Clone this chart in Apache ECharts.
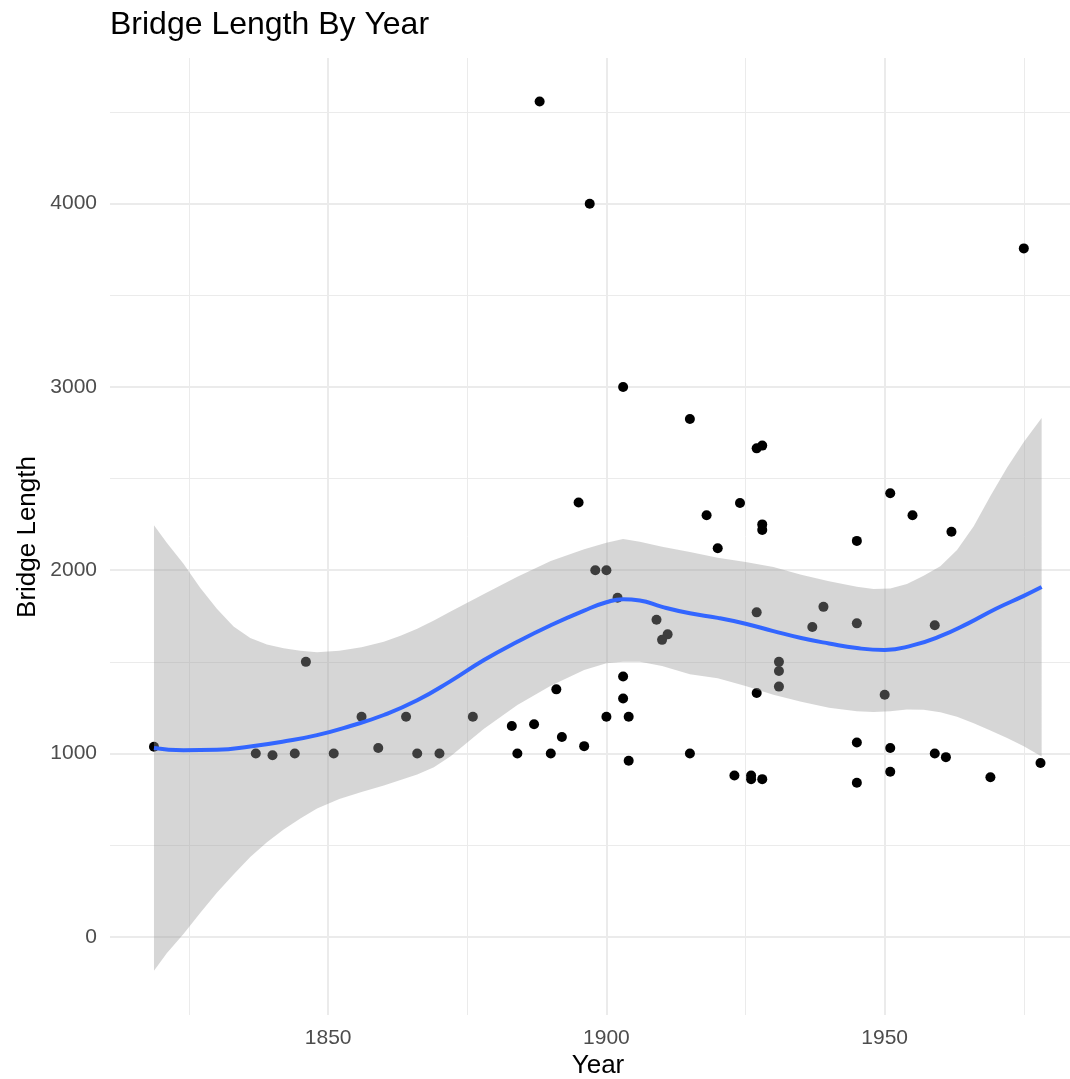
<!DOCTYPE html>
<html>
<head>
<meta charset="utf-8">
<title>Bridge Length By Year</title>
<script src="https://cdn.jsdelivr.net/npm/echarts@6/dist/echarts.min.js"></script>
<style>
  html, body { margin: 0; padding: 0; background: #fff; }
  #chart { width: 1070px; height: 1079px; }
</style>
</head>
<body>
<div id="chart"></div>
<script>
// observed bridges (year erected, length)
const years = [1818.7, 1837, 1840, 1844, 1846, 1851, 1856, 1859, 1864, 1866,
  1870, 1876, 1883, 1884, 1887, 1888, 1890, 1891, 1892, 1895,
  1896, 1897, 1898, 1900, 1900, 1902, 1903, 1903, 1903, 1904,
  1904, 1909, 1910, 1911, 1915, 1915, 1918, 1920, 1923, 1924,
  1926, 1926, 1927, 1927, 1927, 1928, 1928, 1928, 1928, 1931,
  1931, 1931, 1937, 1939, 1945, 1945, 1945, 1945, 1950, 1951,
  1951, 1951, 1955, 1959, 1959, 1961, 1962, 1969, 1975, 1978]
const lengths = [1037, 1000, 990, 1000, 1500, 1000, 1200, 1030, 1200, 1000,
  1000, 1200, 1150, 1000, 1160, 4558, 1000, 1350, 1090, 2370,
  1040, 4000, 2000, 2000, 1200, 1850, 3000, 1420, 1300, 1200,
  960, 1730, 1620, 1650, 2825, 1000, 2300, 2120, 880, 2367,
  880, 860, 2665, 1770, 1330, 2680, 2250, 2220, 860, 1500,
  1450, 1365, 1690, 1800, 2160, 1710, 1060, 840, 1320, 2420,
  1030, 900, 2300, 1700, 1000, 980, 2210, 870, 3756, 948]

// loess fit
const fitYears = [1818.7, 1824, 1830, 1836, 1842, 1848, 1854, 1860, 1866, 1872,
  1878, 1884, 1890, 1896, 1900, 1903, 1906, 1910, 1915, 1920,
  1925, 1930, 1935, 1940, 1945, 1950, 1955, 1960, 1965, 1970,
  1975, 1978.2]
const fitValues = [1030, 1018, 1020, 1038, 1065, 1100, 1150, 1210, 1290, 1395,
  1510, 1610, 1700, 1780, 1825, 1842, 1835, 1800, 1765, 1740,
  1708, 1668, 1630, 1600, 1575, 1565, 1590, 1640, 1710, 1790,
  1860, 1908]

// confidence band around the fit
const bandYears = [1818.7, 1821, 1824, 1827, 1830, 1833, 1836, 1839, 1842, 1845,
  1848, 1852, 1856, 1860, 1863, 1866, 1869, 1872, 1878, 1884,
  1890, 1896, 1900, 1903, 1906, 1910, 1915, 1920, 1925, 1930,
  1935, 1940, 1945, 1948, 1951, 1954, 1957, 1960, 1963, 1966,
  1969, 1972, 1975, 1978.2]
const bandUpper = [2245, 2150, 2035, 1905, 1790, 1693, 1630, 1595, 1574, 1560,
  1553, 1560, 1580, 1610, 1642, 1680, 1725, 1775, 1870, 1965,
  2050, 2115, 2150, 2170, 2155, 2128, 2100, 2068, 2045, 2018,
  1975, 1940, 1910, 1898, 1900, 1925, 1970, 2022, 2110, 2240,
  2405, 2560, 2700, 2831]
const bandLower = [-185, -90, 15, 130, 240, 340, 435, 515, 585, 645,
  700, 752, 790, 825, 855, 885, 925, 985, 1135, 1265,
  1370, 1455, 1493, 1500, 1500, 1477, 1432, 1410, 1368, 1320,
  1282, 1250, 1230, 1226, 1230, 1240, 1238, 1225, 1200, 1165,
  1125, 1085, 1040, 984]

const xTicks = [1850, 1900, 1950]
const yTicks = [0, 1000, 2000, 3000, 4000]

const FONT = "'Liberation Sans', Arial, sans-serif"
const GRID = '#EBEBEB'

const chart = echarts.init(document.getElementById('chart'))

function axisBase(min, max, step, width, labels) {
  return {
    type: 'value',
    min: min,
    max: max,
    minInterval: step,
    maxInterval: step,
    axisLine: { show: false },
    axisTick: { show: false },
    axisLabel: {
      show: !!labels,
      color: '#4D4D4D',
      fontFamily: FONT,
      fontSize: 21,
      margin: 13,
      showMinLabel: false,
      showMaxLabel: false,
      formatter: (v) => (labels && labels.includes(v) ? String(v) : '')
    },
    splitLine: {
      show: true,
      showMinLine: false,
      showMaxLine: false,
      lineStyle: { color: GRID, width: width }
    }
  }
}

chart.setOption({
  animation: false,
  backgroundColor: '#fff',
  grid: { left: 110, right: 0, top: 58, bottom: 64 },
  xAxis: [
    axisBase(1810.8, 1983.3, 50, 2, xTicks),
    axisBase(1810.8, 1983.3, 25, 1, null)
  ],
  yAxis: [
    axisBase(-427, 4795, 1000, 2, yTicks),
    axisBase(-427, 4795, 500, 1, null)
  ],
  graphic: [
    {
      type: 'text', x: 110, y: 25,
      style: { text: 'Bridge Length By Year', font: '32px ' + FONT, fill: '#000', textAlign: 'left', textVerticalAlign: 'middle' }
    },
    {
      type: 'text', x: 598, y: 1066,
      style: { text: 'Year', font: '26px ' + FONT, fill: '#000', textAlign: 'center', textVerticalAlign: 'middle' }
    },
    {
      type: 'text', x: 28, y: 537, rotation: Math.PI / 2,
      style: { text: 'Bridge Length', font: '26px ' + FONT, fill: '#000', textAlign: 'center', textVerticalAlign: 'middle' }
    }
  ],
  series: [
    {
      type: 'scatter',
      data: years.map((y, i) => [y, lengths[i]]),
      symbolSize: 10,
      itemStyle: { color: '#000', opacity: 1 },
      z: 2
    },
    {
      // band drawn as one polygon: upper edge forward, lower edge back
      type: 'custom',
      data: bandYears.map((y, i) => [y, bandUpper[i]]),
      z: 3,
      renderItem: (params, api) => {
        if (params.dataIndex !== 0) return
        const pts = []
        bandYears.forEach((y, i) => pts.push(api.coord([y, bandUpper[i]])))
        for (let i = bandYears.length - 1; i >= 0; i--) {
          pts.push(api.coord([bandYears[i], bandLower[i]]))
        }
        return {
          type: 'polygon',
          shape: { points: pts },
          style: { fill: 'rgba(153,153,153,0.4)' }
        }
      }
    },
    {
      type: 'line',
      data: fitYears.map((y, i) => [y, fitValues[i]]),
      smooth: true,
      showSymbol: false,
      lineStyle: { color: '#3366FF', width: 4 },
      z: 4
    }
  ]
})
</script>
</body>
</html>
